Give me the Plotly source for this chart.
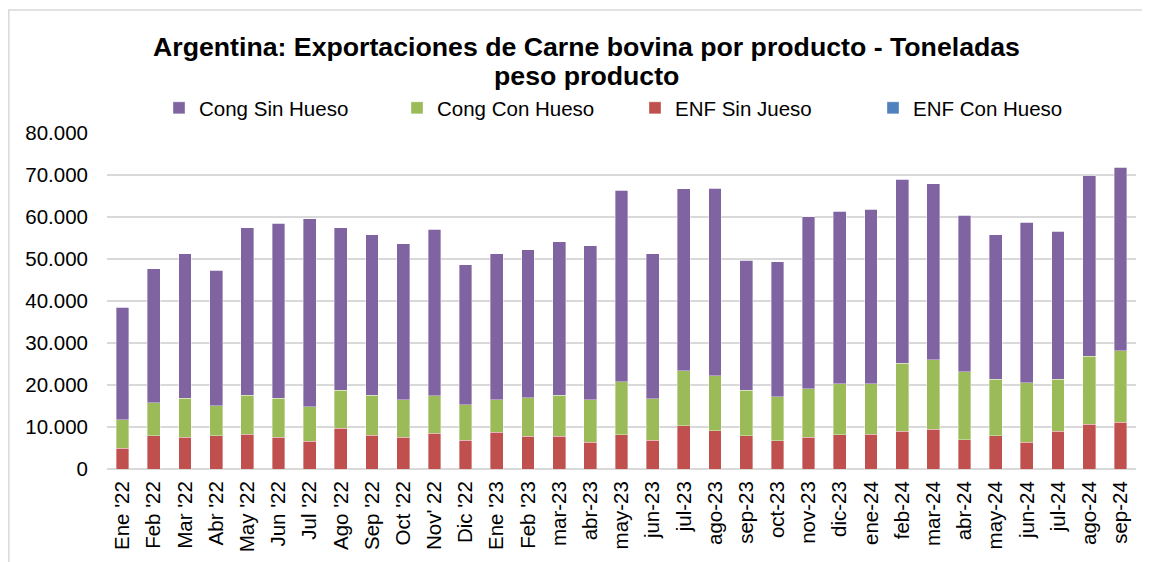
import plotly.graph_objects as go

categories = ["Ene '22", "Feb '22", "Mar '22", "Abr '22", "May '22", "Jun '22", "Jul '22",
              "Ago '22", "Sep '22", "Oct '22", "Nov' 22", "Dic '22", "Ene '23", "Feb '23",
              "mar-23", "abr-23", "may-23", "jun-23", "jul-23", "ago-23", "sep-23", "oct-23",
              "nov-23", "dic-23", "ene-24", "feb-24", "mar-24", "abr-24", "may-24", "jun-24",
              "jul-24", "ago-24", "sep-24"]

enf_sin_hueso = [5000, 7940, 7540, 7940, 8260, 7540, 6600, 9700, 8000, 7540, 8500, 6900,
                 8700, 7800, 7800, 6340, 8200, 6800, 10300, 9100, 7900, 6750, 7540, 8100,
                 8250, 9000, 9450, 7000, 7900, 6400, 9000, 10700, 11100]

cong_con_hueso = [6750, 7860, 9260, 7160, 9340, 9360, 8200, 9000, 9600, 8960, 9000, 8400,
                  7800, 9200, 9800, 10160, 12600, 9900, 13100, 13100, 10800, 10450, 11610, 12200,
                  12050, 16200, 16550, 16100, 13500, 14100, 12400, 16200, 17000]

cong_sin_hueso = [26710, 31900, 34500, 32200, 39900, 41600, 44800, 38800, 38200, 37100, 39600, 33300,
                  34800, 35200, 36500, 36700, 45600, 34600, 43300, 44700, 31000, 32100, 40950, 41100,
                  41500, 43800, 41900, 37300, 34400, 38300, 35200, 43100, 43800]

enf_con_hueso = [0, 0, 0, 0, 0, 0, 0, 0, 0, 0, 0, 0, 0, 0, 0, 0, 0, 0, 0, 0, 0, 0,
                 0, 0, 0, 0, 0, 0, 0, 0, 0, 0, 0]

tick_vals = [0, 10000, 20000, 30000, 40000, 50000, 60000, 70000, 80000]

title_line1 = "Argentina: Exportaciones de Carne bovina por producto - Toneladas"
title_line2 = "peso producto"

FONT = "Liberation Sans, Arial, sans-serif"
edge = dict(color="rgba(255,255,255,0.6)", width=0.6)

W, H = 1150, 562
ML, MR, MT, MB = 99, 22, 125, 101
PW, PH = W - ML - MR, H - MT - MB

fig = go.Figure()
fig.add_trace(go.Bar(x=categories, y=enf_sin_hueso, name="ENF Sin Jueso",
                     marker=dict(color="#C0504D", line=edge), legendrank=3))
fig.add_trace(go.Bar(x=categories, y=cong_con_hueso, name="Cong Con Hueso",
                     marker=dict(color="#9BBB59", line=edge), legendrank=2))
fig.add_trace(go.Bar(x=categories, y=cong_sin_hueso, name="Cong Sin Hueso",
                     marker=dict(color="#8064A2", line=edge), legendrank=1))
fig.add_trace(go.Bar(x=categories, y=enf_con_hueso, name="ENF Con Hueso",
                     marker=dict(color="#4F81BD", line=edge), legendrank=4))

fig.update_layout(
    width=W, height=H,
    barmode="stack", bargap=0.59,
    separators=",.",
    paper_bgcolor="white", plot_bgcolor="white",
    font=dict(family=FONT, size=20, color="#000000"),
    margin=dict(l=ML, r=MR, t=MT, b=MB, autoexpand=False),
    legend=dict(orientation="h", traceorder="normal",
                xref="container", x=151 / W, xanchor="left",
                yref="container", y=1 - 100 / H, yanchor="middle",
                font=dict(family=FONT, size=20.5), entrywidth=193, entrywidthmode="pixels",
                itemwidth=30, bgcolor="rgba(0,0,0,0)"),
    showlegend=True,
)
fig.add_annotation(text="<b>" + title_line1 + "</b>", xref="paper", yref="paper",
                   x=(578 - ML) / PW, y=(H - MB - 39) / PH, xanchor="center", yanchor="middle",
                   showarrow=False, font=dict(family=FONT, size=26.7, color="#000000"))
fig.add_annotation(text="<b>" + title_line2 + "</b>", xref="paper", yref="paper",
                   x=(578 - ML) / PW, y=(H - MB - 68) / PH, xanchor="center", yanchor="middle",
                   showarrow=False, font=dict(family=FONT, size=26.7, color="#000000"))

fig.update_xaxes(tickangle=-90, showgrid=False, showline=False, ticks="",
                 ticklabelstandoff=7,
                 tickfont=dict(family=FONT, size=20.5), automargin=False)
fig.update_yaxes(range=[0, 80000], tickvals=tick_vals, tickformat=",.0f",
                 showgrid=True, gridcolor="#D9D9D9", gridwidth=1.5,
                 zeroline=True, zerolinecolor="#D9D9D9", zerolinewidth=1.5,
                 showline=False, ticks="", ticklabelstandoff=18,
                 tickfont=dict(family=FONT, size=20.5), automargin=False)

# outer chart border
fig.add_shape(type="rect", xref="paper", yref="paper",
              x0=(0.8 - ML) / PW, x1=(W + 10 - ML) / PW,
              y0=(H - MB - (H + 10)) / PH, y1=(H - MB - 2) / PH,
              line=dict(color="#D9D9D9", width=1.5), fillcolor="rgba(0,0,0,0)", layer="below")

fig.write_html("out.html")
